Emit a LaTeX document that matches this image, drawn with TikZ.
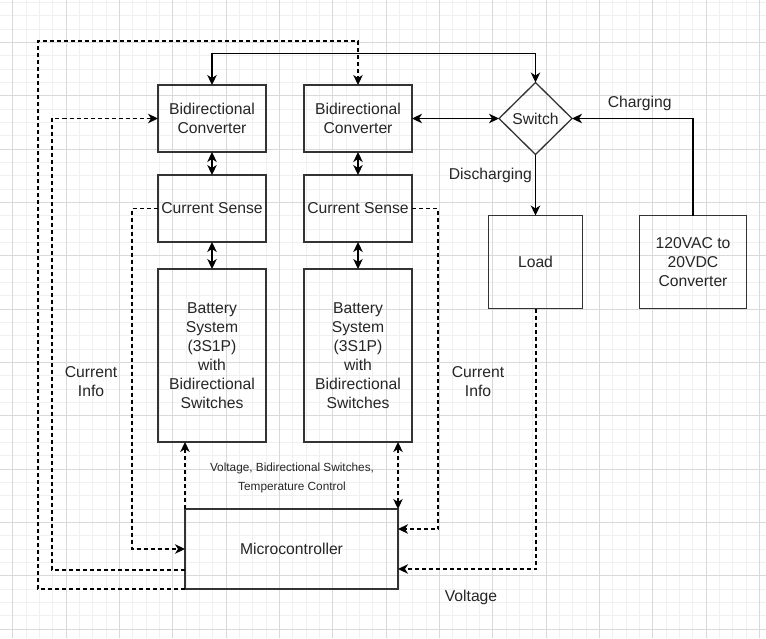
\documentclass[tikz,border=0pt]{standalone}
\usepackage{fontspec}
\setmainfont{Liberation Sans}
\usetikzlibrary{positioning, arrows.meta, shapes.geometric}
\tikzset{
  > = {Stealth[length = 10pt, width = 9.5pt, inset = 3pt]},   % classic arrowheads
  block/.style = {draw = black!80, line width = 1.3pt, inner sep = 0pt, outer sep = 0pt,
    align = center, text = black!85, font = \fontsize{15.7}{19}\selectfont,
    minimum width = 108pt, minimum height = 67pt},
  decision/.style = {block, diamond, minimum width = 73pt, minimum height = 72pt},
  power/.style = {draw, line width = 1.4pt},
  signal/.style = {draw, line width = 1.3pt, dash pattern = on 4pt off 3pt},
  note/.style = {align = center, inner sep = 1pt, text = black!85,
    font = \fontsize{15.7}{19}\selectfont},
  tiny/.style = {note, font = \fontsize{11.8}{19}\selectfont},
  minor/.style = {gray!12, line width = 0.6pt},
  major/.style = {gray!30, line width = 0.7pt}
}

\begin{document}
\begin{tikzpicture}[x = 1pt, y = -1pt]
\useasboundingbox (0,0) rectangle (766,638);

%% Grid
\begin{scope}
  \clip (0,0) rectangle (766,638);
  \fill [white] (0,0) rectangle (766,638);
  \foreach \i in {0,...,58}
    \draw [minor] ({-0.73+13.333*\i},0) -- ++(0,638);
  \foreach \i in {0,...,47}
    \draw [minor] (0,{2.3+13.333*\i}) -- ++(766,0);
  \foreach \i in {0,...,14}
    \draw [major] ({12.6+53.333*\i},0) -- ++(0,638);
  \foreach \i in {0,...,12}
    \draw [major] (0,{-11.03+53.333*\i}) -- ++(766,0);
\end{scope}

%% Battery columns
\node [block] (conv1) at (212,118.5) {Bidirectional\\Converter};
\node [block] (sense1) [below = 23pt of conv1] {Current Sense};
\node [block, minimum height = 173pt] (batt1) [below = 27pt of sense1]
  {Battery\\System\\(3S1P)\\with\\Bidirectional\\Switches};

\node [block] (conv2) [right = 38pt of conv1] {Bidirectional\\Converter};
\node [block] (sense2) [below = 23pt of conv2] {Current Sense};
\node [block, minimum height = 173pt] (batt2) [below = 27pt of sense2]
  {Battery\\System\\(3S1P)\\with\\Bidirectional\\Switches};

%% Switch, load and supply
\node [decision] (switch) [right = 87pt of conv2] {Switch};
\node [block, minimum width = 94pt, minimum height = 93pt] (load) [below = 61pt of switch] {Load};
\node [block, minimum width = 107pt, minimum height = 93pt] (ac) [right = 57pt of load]
  {120VAC to\\20VDC\\Converter};

%% Controller
\node [block, minimum width = 213pt, minimum height = 80pt] (micro)
  [below right = 67pt and 27pt of batt1.south west] {Microcontroller};

%% Power lines
\draw [power, <->] (conv1.north) |- ([yshift = 29pt]switch.north) -- (switch.north);
\draw [power, <->] (conv2.east) -- (conv2.east -| switch.west);
\draw [power, ->] (ac.north) |- (switch.east)
  node [note, pos = 0.72, above = 6pt] {Charging};
\draw [power, ->] (switch.south) -- (switch.south |- load.north)
  node [note, pos = 0.34, left = 2pt] {Discharging};
\foreach \i in {1,2} {
  \draw [power, <->] (conv\i) -- (sense\i);
  \draw [power, <->] (sense\i) -- (batt\i);
}

%% Signal lines
\draw [signal, ->] (sense1.west) -- ++(-26pt,0) |- (micro.west);
\draw [signal, ->] (sense2.east) -- ++(26pt,0) |- ([yshift = 20pt]micro.east);
\draw [signal, ->] ([xshift = 0.5pt]load.south) |- ([yshift = -20pt]micro.east);
\draw [signal, ->] (micro.north west) -- (micro.north west |- batt1.south);
\draw [signal, <->] (micro.north east) -- (micro.north east |- batt2.south);
\draw [signal, ->] ([yshift = -21pt]micro.west) -- ++(-133pt,0) |- (conv1.west);
\draw [signal, ->] (micro.south west) -- ++(-147pt,0) |- ([yshift = 44pt]conv2.north)
  -- (conv2.north);

%% Labels
\node [note] (info1) at (91,382) {Current\\Info};
\node [note] (info2) at (478,382) {Current\\Info};
\node [note] (volt) at (471,597) {Voltage};
\node [tiny] (ctrl) at (292,477.5) {Voltage, Bidirectional Switches,\\Temperature Control};

\end{tikzpicture}
\end{document}
